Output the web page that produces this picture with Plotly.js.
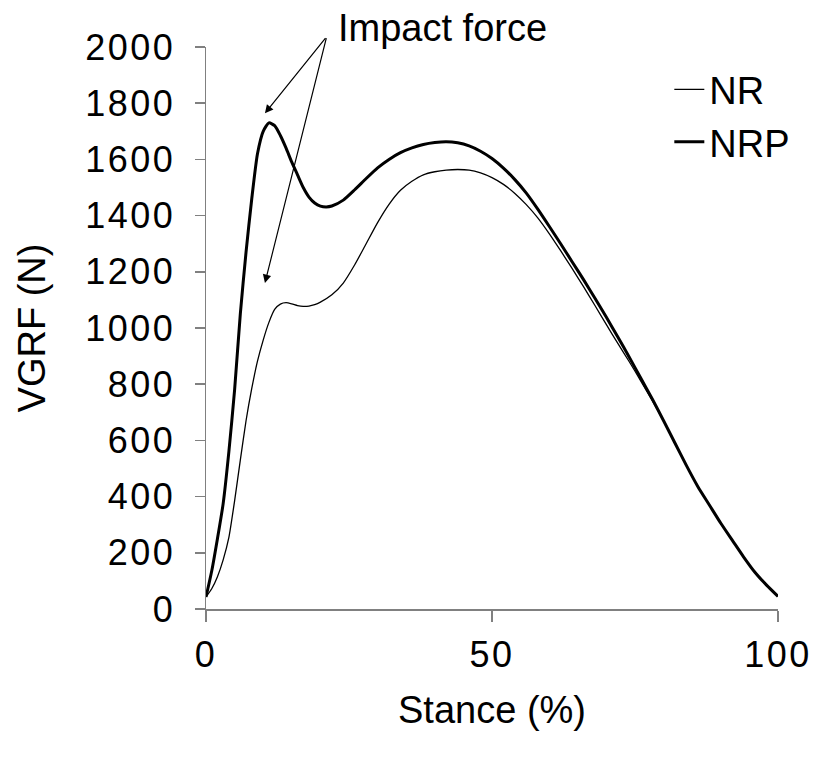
<!DOCTYPE html>
<html>
<head>
<meta charset="utf-8">
<script src="https://cdn.plot.ly/plotly-3.0.1.min.js"></script>
<style>
html,body{margin:0;padding:0;background:#fff;}
#chart{width:815px;height:770px;}
.xtick text, .ytick text{letter-spacing:2.5px;}
</style>
</head>
<body>
<div id="chart"></div>
<script>
// Stance (%) sample points
const stanceNR = [0,1,2,3,4,5,6,7,8,9,10,11,12,13,14,15,16,17,18,19,20,22,24,26,28,30,32,34,36,38,40,42,44,46,48,50,52,54,56,58,60,62,64,66,68,70,72,74,76,78,80,82,84,86,88,90,92,94,96,98,100];
const vgrfNR   = [43,72,115,175,255,385,530,670,785,882,957,1020,1066,1085,1090,1086,1080,1077,1078,1083,1092,1118,1160,1225,1300,1375,1440,1490,1522,1545,1556,1562,1564,1562,1552,1535,1511,1479,1439,1392,1336,1275,1212,1147,1080,1012,945,880,812,742,670,590,510,435,370,305,245,185,130,85,45];

const stanceNRP = [0,1,2,3,4,5,6,7,8,9,10,11,12,13,14,15,16,17,18,19,20,21,22,24,26,28,30,32,34,36,38,40,42,44,46,48,50,52,54,56,58,60,62,64,66,68,70,72,74,76,78,80,82,84,86,88,90,92,94,96,98,100];
const vgrfNRP   = [43,135,250,375,560,780,1050,1270,1460,1620,1700,1730,1720,1685,1640,1590,1545,1500,1466,1445,1434,1431,1434,1455,1492,1532,1570,1600,1624,1641,1653,1660,1663,1659,1648,1629,1603,1569,1528,1480,1423,1362,1300,1236,1172,1106,1038,968,896,822,748,670,590,510,435,370,305,245,185,130,85,45];

const seriesNames = ["NR", "NRP"];
const xTicks = [0, 50, 100];
const yTicks = [0,200,400,600,800,1000,1200,1400,1600,1800,2000];

// annotation anchor values (data units)
const labelText = "Impact force";
const arrowTail = {x: 21.1, y: 2037};
const arrowTips = [{x: 10.3, y: 1764}, {x: 10.3, y: 1160}];

const FONT = "Liberation Sans, Arial, Helvetica, sans-serif";
const FS = 38;
const TICKFS = 36;

const traces = [
  {x: stanceNR, y: vgrfNR, name: seriesNames[0], mode: "lines",
   line: {color: "#000", width: 1.3, shape: "spline", smoothing: 0.6}},
  {x: stanceNRP, y: vgrfNRP, name: seriesNames[1], mode: "lines",
   line: {color: "#000", width: 3, shape: "spline", smoothing: 0.6}}
];

const annotations = [
  {x: 0.228, y: 1.033, xref: "paper", yref: "paper", text: labelText,
   showarrow: false, xanchor: "left", yanchor: "middle",
   font: {family: FONT, size: FS, color: "#000"}}
].concat(arrowTips.map(t => ({
  x: t.x, y: t.y, xref: "x", yref: "y", ax: arrowTail.x, ay: arrowTail.y,
  axref: "x", ayref: "y", text: "", showarrow: true,
  arrowhead: 2, arrowsize: 1.4, arrowwidth: 1.2, arrowcolor: "#000"
})));

const layout = {
  width: 815, height: 770,
  margin: {l: 206, r: 37, t: 47, b: 161},
  paper_bgcolor: "#fff", plot_bgcolor: "#fff",
  font: {family: FONT, size: FS, color: "#000"},
  showlegend: true,
  legend: {x: 0.81, y: 0.98, xanchor: "left", yanchor: "top",
           bgcolor: "rgba(0,0,0,0)", font: {family: FONT, size: FS},
           tracegroupgap: 0, itemwidth: 30},
  xaxis: {range: [0, 100], tickvals: xTicks, ticktext: xTicks.map(String),
          showgrid: false, zeroline: false, showline: true, linecolor: "#808080", linewidth: 1.5,
          ticks: "outside", ticklen: 11, tickcolor: "#808080", tickwidth: 1.5,
          ticklabelstandoff: 2, tickfont: {family: FONT, size: TICKFS},
          title: {text: "Stance (%)", font: {family: FONT, size: FS}, standoff: 22}},
  yaxis: {range: [0, 2000], tickvals: yTicks, ticktext: yTicks.map(String),
          showgrid: false, zeroline: false, showline: true, linecolor: "#808080", linewidth: 1.5,
          ticks: "outside", ticklen: 10, tickcolor: "#808080", tickwidth: 1.5,
          ticklabelstandoff: 12, tickfont: {family: FONT, size: TICKFS},
          title: {text: "VGRF (N)", font: {family: FONT, size: FS}, standoff: 28}},
  annotations: annotations
};

Plotly.newPlot("chart", traces, layout, {displayModeBar: false, staticPlot: true});
</script>
</body>
</html>
